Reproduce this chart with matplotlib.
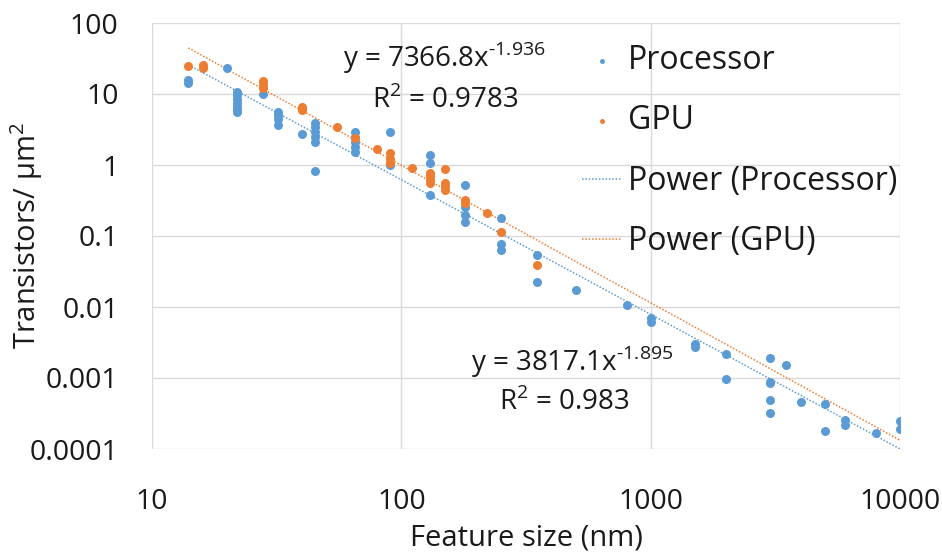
import numpy as np
import matplotlib
matplotlib.use("Agg")
from matplotlib import pyplot as plt

plt.rcParams['font.family'] = ['Open Sans', 'DejaVu Sans']
plt.rcParams['mathtext.fontset'] = 'custom'
plt.rcParams['mathtext.rm'] = 'Open Sans'

# feature size (nm) -> transistor density (per um^2)
proc_x = [14, 14, 20,
          22, 22, 22, 22, 22, 22, 22,
          28, 32, 32, 32, 32, 40,
          45, 45, 45, 45, 45, 45,
          65, 65, 65, 65, 65,
          90, 90, 130, 130, 130,
          180, 180, 180, 180,
          250, 250, 250, 350, 350,
          500, 800, 1000, 1000, 1500, 1500, 2000, 2000,
          3000, 3000, 3000, 3000, 3000, 3500, 4000,
          5000, 5000, 6000, 6000, 8000, 10000, 10000]
proc_y = [15.7, 14.3, 23,
          10.8, 9.6, 8.4, 7.4, 6.6, 6.0, 5.6,
          10, 5.6, 5.0, 4.4, 3.7, 2.7,
          3.9, 3.4, 2.9, 2.5, 2.1, 0.83,
          2.9, 2.5, 2.1, 1.8, 1.5,
          2.9, 1.0, 1.38, 1.07, 0.38,
          0.53, 0.26, 0.2, 0.155,
          0.18, 0.077, 0.064, 0.054, 0.0226,
          0.0174, 0.0107, 0.0069, 0.0061, 0.0030, 0.0027, 0.0022, 0.00098,
          0.0019, 0.00088, 0.00085, 0.00049, 0.00032, 0.00152, 0.00046,
          0.00043, 0.000182, 0.00026, 0.00022, 0.000167, 0.00025, 0.000194]

gpu_x = [14, 16, 16, 28, 28, 28, 40, 40, 40, 55, 65, 80,
         90, 90, 90, 110, 130, 130, 130, 130,
         150, 150, 150, 150, 180, 180, 220, 250, 350]
gpu_y = [24.9, 26, 23, 15.2, 13.5, 12, 6.6, 6.2, 5.9, 3.4, 2.4, 1.67,
         1.47, 1.2, 1.07, 0.9, 0.78, 0.7, 0.62, 0.56,
         0.88, 0.56, 0.5, 0.45, 0.32, 0.29, 0.21, 0.115, 0.039]

# trendline coefficients (power fits)
proc_fit = (3817.1, -1.895, 0.983)
gpu_fit = (7366.8, -1.936, 0.9783)

blue = '#5B9BD5'
orange = '#ED7D31'
txt = '#1a1a1a'

fig = plt.figure(figsize=(9.42, 5.54), dpi=100)
ax = fig.add_axes([152/942, 1-449/554, 748/942, 426/554])

xs = np.logspace(np.log10(14), 4, 200)
ax.scatter(proc_x, proc_y, s=42, color=blue, zorder=3, label='Processor', linewidths=0)
ax.scatter(gpu_x, gpu_y, s=42, color=orange, zorder=3, label='GPU', linewidths=0)
ax.plot(xs, proc_fit[0]*xs**proc_fit[1], color=blue, ls=(0, (1, 1.2)), lw=1.1,
        label='Power (Processor)', zorder=2)
ax.plot(xs, gpu_fit[0]*xs**gpu_fit[1], color=orange, ls=(0, (1, 1.2)), lw=1.1,
        label='Power (GPU)', zorder=2)

ax.set_xscale('log')
ax.set_yscale('log')
ax.set_xlim(10, 10000)
ax.set_ylim(0.0001, 100)
ax.set_xticks([10, 100, 1000, 10000])
ax.set_xticklabels(['10', '100', '1000', '10000'])
ax.set_yticks([0.0001, 0.001, 0.01, 0.1, 1, 10, 100])
ax.set_yticklabels(['0.0001', '0.001', '0.01', '0.1', '1', '10', '100'])
ax.minorticks_off()
ax.tick_params(length=0, labelsize=20.5, colors=txt)
ax.tick_params(axis='y', pad=24)
ax.tick_params(axis='x', pad=28)
ax.grid(True, color='#D9D9D9', lw=1)
ax.set_axisbelow(True)
for s in ax.spines.values():
    s.set_visible(False)

fig.text(526/942, 1-538/554, 'Feature size (nm)', fontsize=21, color=txt, ha='center', va='center')
fig.text(27/942, 1-236/554, 'Transistors/ μm$^{\\mathregular{2}}$', fontsize=21, color=txt,
         ha='center', va='center', rotation=90)

fig.text(444/942, 1-58/554, 'y = %.1fx$^{\\text{%.3f}}$' % (gpu_fit[0], gpu_fit[1]),
         fontsize=20, ha='center', va='center', color=txt)
fig.text(445/942, 1-100/554, 'R$^{\\mathregular{2}}$ = %.4f' % gpu_fit[2],
         fontsize=20, ha='center', va='center', color=txt)
fig.text(572/942, 1-362/554, 'y = %.1fx$^{\\text{%.3f}}$' % (proc_fit[0], proc_fit[1]),
         fontsize=20, ha='center', va='center', color=txt)
fig.text(564/942, 1-402/554, 'R$^{\\mathregular{2}}$ = %.3f' % proc_fit[2],
         fontsize=20, ha='center', va='center', color=txt)

leg = ax.legend(loc='upper left', bbox_to_anchor=(566/942, 1-28/554), bbox_transform=fig.transFigure,
                frameon=False, fontsize=23, handlelength=1.25, handletextpad=0.2,
                labelspacing=0.86, markerscale=0.55, borderpad=0)
for t in leg.get_texts():
    t.set_color(txt)

fig.savefig('out.png', dpi=100)
